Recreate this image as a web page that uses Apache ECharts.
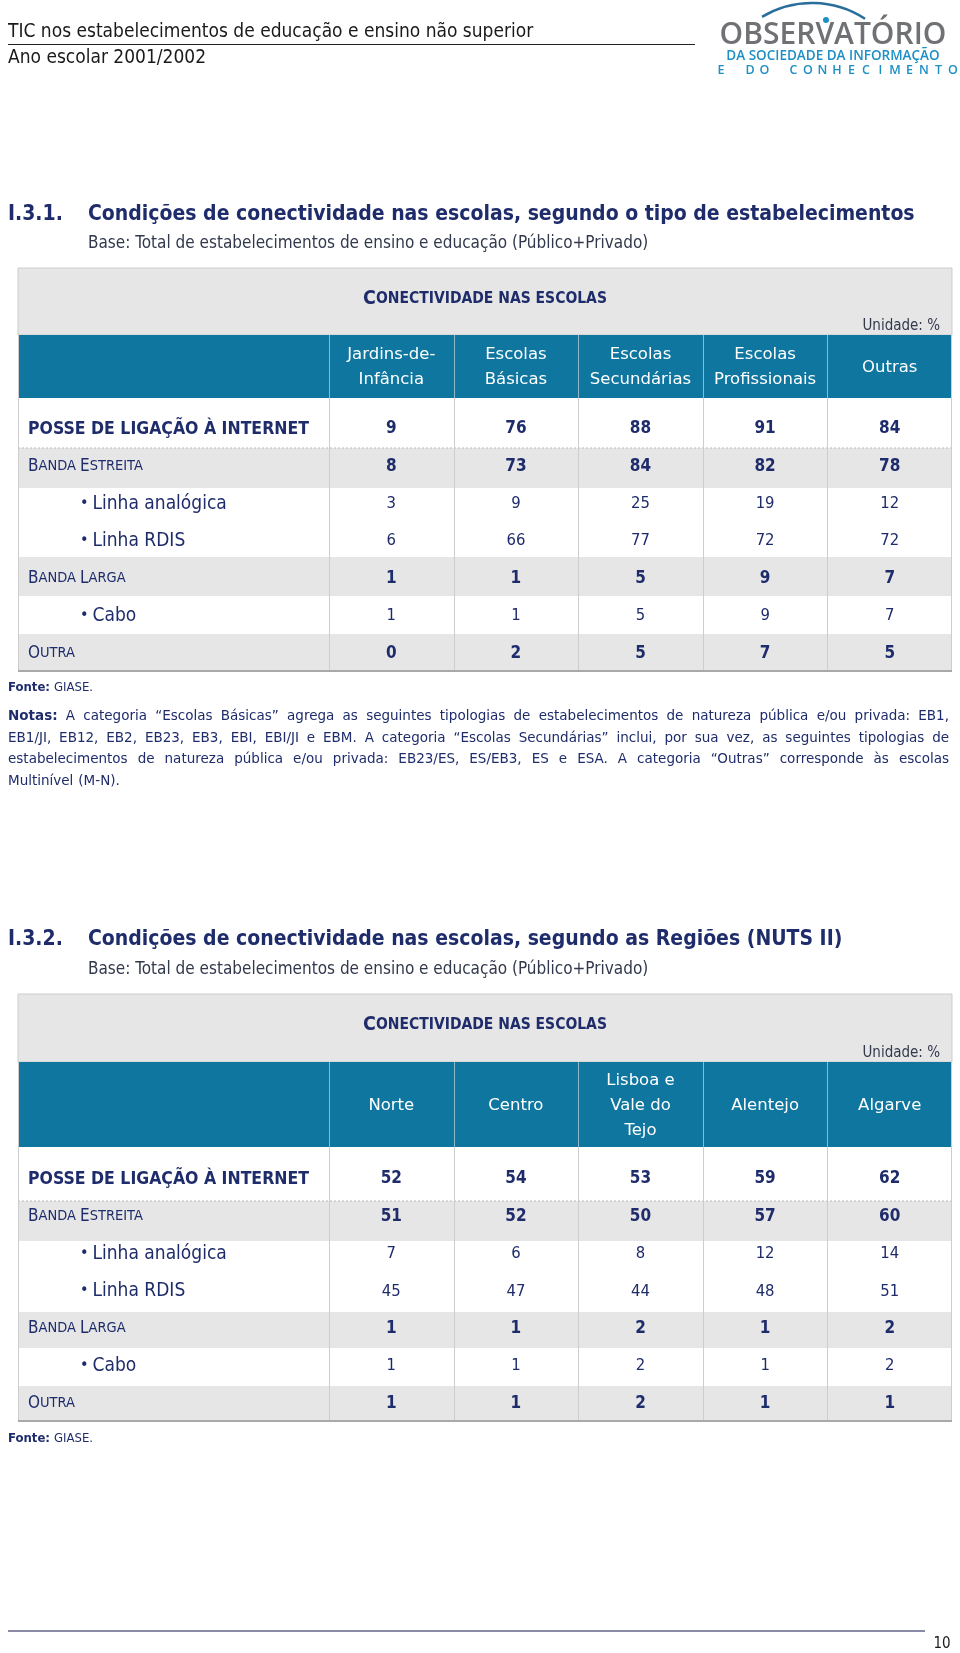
<!DOCTYPE html>
<html><head><meta charset="utf-8">
<script src="https://cdn.jsdelivr.net/npm/echarts@6/dist/echarts.min.js"></script>
<style>html,body{margin:0;padding:0;background:#fff}#main{width:960px;height:1653px}</style>
</head><body><div id="main"></div><script>
// ---------- DATA ----------
const columnsTipo = ['Jardins-de-\nInfância', 'Escolas\nBásicas', 'Escolas\nSecundárias', 'Escolas\nProfissionais', 'Outras'];
const columnsRegiao = ['Norte', 'Centro', 'Lisboa e\nVale do\nTejo', 'Alentejo', 'Algarve'];
const rowLabels = ['POSSE DE LIGAÇÃO À INTERNET', 'Banda Estreita', 'Linha analógica', 'Linha RDIS', 'Banda Larga', 'Cabo', 'Outra'];

const tipoPosse     = [9, 76, 88, 91, 84];
const tipoEstreita  = [8, 73, 84, 82, 78];
const tipoAnalogica = [3, 9, 25, 19, 12];
const tipoRDIS      = [6, 66, 77, 72, 72];
const tipoLarga     = [1, 1, 5, 9, 7];
const tipoCabo      = [1, 1, 5, 9, 7];
const tipoOutra     = [0, 2, 5, 7, 5];

const regPosse     = [52, 54, 53, 59, 62];
const regEstreita  = [51, 52, 50, 57, 60];
const regAnalogica = [7, 6, 8, 12, 14];
const regRDIS      = [45, 47, 44, 48, 51];
const regLarga     = [1, 1, 2, 1, 2];
const regCabo      = [1, 1, 2, 1, 2];
const regOutra     = [1, 1, 2, 1, 1];

// ---------- STYLE ----------
const NAVY = '#1f2c6b';
const BLUE = '#0f76a0';
const GREY = '#e6e6e6';
const BORDER = '#cdcdcd';
const COND = "'DejaVu Sans Condensed','Liberation Sans Narrow','DejaVu Sans',sans-serif";
const SANS = "'DejaVu Sans',Verdana,sans-serif";
const NARROW = "'Liberation Sans Narrow','DejaVu Sans Condensed','DejaVu Sans',sans-serif";
const LOGO = "'Open Sans','Noto Sans',sans-serif";
const rowKinds = ['bold', 'caps', 'bullet', 'bullet', 'caps', 'bullet', 'caps'];

const chart = echarts.init(document.getElementById('main'), null, {renderer: 'canvas', width: 960, height: 1653});

// table layouts
const tables = [
  {top: 268, hdrBottom: 335, blueBottom: 398, bounds: [398, 448, 488, 557, 596, 634, 671], gridTop: 410.4, gridH: 261.4, labelMargin: 42.9},
  {top: 994, hdrBottom: 1062, blueBottom: 1147, bounds: [1147, 1201, 1241, 1312, 1348, 1386, 1421], gridTop: 1160.3, gridH: 262, labelMargin: 54.3}
];
const TL = 18, TR = 952, COLL = 329;
const colW = (TR - COLL) / 5;

const G = [];
function T(text, x, y, o) {
  o = o || {};
  G.push({type: 'text', x: x, y: y, z: 10, silent: true, style: Object.assign({
    text: text, fill: o.fill || NAVY, fontFamily: o.fontFamily || COND, fontSize: o.fontSize || 14,
    fontWeight: o.fontWeight || 'normal', align: o.align || 'left', verticalAlign: o.verticalAlign || 'middle'
  }, o.rich ? {rich: o.rich} : {})});
}
function L(x1, y1, x2, y2, stroke, w, dash) {
  G.push({type: 'line', z: 2, silent: true, shape: {x1, y1, x2, y2}, style: {stroke, lineWidth: w || 1, lineDash: dash || null}});
}
function R(x, y, w, h, fill, stroke) {
  G.push({type: 'rect', z: 1, silent: true, shape: {x, y, width: w, height: h}, style: {fill, stroke: stroke || null, lineWidth: 1}});
}

// ---- page header ----
T('TIC nos estabelecimentos de educação e ensino não superior', 8, 32, {fontFamily: NARROW, fontSize: 19, fill: '#1a1a1a'});
L(8, 44.5, 695, 44.5, '#222', 1.2);
T('Ano escolar 2001/2002', 8, 58, {fontFamily: NARROW, fontSize: 19, fill: '#1a1a1a'});
// logo
G.push({type: 'arc', z: 10, silent: true, shape: {cx: 812, cy: 100, r: 97, startAngle: -2.112, endAngle: -0.992, clockwise: true}, style: {stroke: '#2a6f9c', lineWidth: 2.5, fill: null}});
G.push({type: 'circle', z: 10, silent: true, shape: {cx: 826, cy: 20, r: 3}, style: {fill: '#1c8fc4'}});
T('OBSERVATÓRIO', 833, 35, {fontFamily: LOGO, fontSize: 30, fontWeight: 600, fill: '#6f7174', align: 'center'});
T('DA SOCIEDADE DA INFORMAÇÃO', 833, 56, {fontFamily: LOGO, fontSize: 13.5, fontWeight: 600, fill: '#1c8fc4', align: 'center'});
'E DO CONHECIMENTO'.split('').forEach((ch, i) => {
  if (ch !== ' ') T(ch, 714 + 7 + i * 14.5, 70, {fontFamily: LOGO, fontSize: 12.5, fontWeight: 600, fill: '#1c8fc4', align: 'center'});
});

// ---- section titles ----
function section(num, title, yTitle, yBase) {
  T(num, 8, yTitle, {fontSize: 21, fontWeight: 'bold'});
  T(title, 88, yTitle, {fontSize: 21, fontWeight: 'bold'});
  T('Base: Total de estabelecimentos de ensino e educação (Público+Privado)', 88, yBase, {fontSize: 17, fill: '#33394d'});
}
section('I.3.1.', 'Condições de conectividade nas escolas, segundo o tipo de estabelecimentos', 215, 243.5);
section('I.3.2.', 'Condições de conectividade nas escolas, segundo as Regiões (NUTS II)', 940, 969.5);

// ---- table frames ----
tables.forEach(t => {
  R(TL, t.top, TR - TL, t.hdrBottom - t.top, GREY, BORDER);
  R(TL, t.hdrBottom, TR - TL, t.blueBottom - t.hdrBottom, BLUE, null);
  const fills = ['#ffffff', GREY, '#ffffff', GREY, '#ffffff', GREY];
  for (let i = 0; i < 6; i++) R(TL, t.bounds[i], TR - TL, t.bounds[i + 1] - t.bounds[i], fills[i], null);
  L(TL, t.bounds[1], TR, t.bounds[1], '#b8b8b8', 1, [2, 2]);
  L(TL + 0.5, t.hdrBottom, TL + 0.5, t.bounds[6], BORDER, 1);
  L(TR - 0.5, t.hdrBottom, TR - 0.5, t.bounds[6], BORDER, 1);
  for (let i = 0; i < 5; i++) {
    const x = Math.round(COLL + i * colW) + 0.5;
    L(x, t.hdrBottom, x, t.blueBottom, '#8fb8cc', 1);
    L(x, t.blueBottom, x, t.bounds[6], BORDER, 1);
  }
  L(TL, t.bounds[6], TR, t.bounds[6], '#a9a9a9', 2);
  const cy = t.top + (t.hdrBottom - t.top) * 0.46;
  T('{c|C}{s|ONECTIVIDADE NAS ESCOLAS}', 485, cy, {align: 'center', rich: {
    c: {fontFamily: COND, fontSize: 19.5, fontWeight: 'bold', fill: NAVY},
    s: {fontFamily: COND, fontSize: 15.5, fontWeight: 'bold', fill: NAVY}}});
  T('Unidade: %', 940, t.hdrBottom - 9, {align: 'right', fontSize: 15, fill: '#33394d'});
});

// ---- notes ----
const mctx = document.createElement('canvas').getContext('2d');
function fontStr(f) { return (f.fontWeight || 'normal') + ' ' + f.fontSize + 'px ' + f.fontFamily; }
function justify(words, y, x0, x1, just) {
  const widths = words.map(w => { mctx.font = fontStr(w); return mctx.measureText(w.t).width; });
  const total = widths.reduce((a, b) => a + b, 0);
  const gap = just ? (x1 - x0 - total) / (words.length - 1) : 5;
  let x = x0;
  words.forEach((w, i) => { T(w.t, x, y, {fontFamily: w.fontFamily, fontSize: w.fontSize, fontWeight: w.fontWeight, fill: NAVY}); x += widths[i] + gap; });
}
function wordsOf(str, boldFirst) {
  return str.split(' ').map((t, i) => ({t, fontFamily: SANS, fontSize: 13.5, fontWeight: (boldFirst && i === 0) ? 'bold' : 'normal'}));
}
const fonteRich = {b: {fontFamily: COND, fontSize: 13, fontWeight: 'bold', fill: NAVY}, r: {fontFamily: COND, fontSize: 13, fill: NAVY}};
T('{b|Fonte:} {r|GIASE.}', 8, 688, {rich: fonteRich});
justify(wordsOf('Notas: A categoria “Escolas Básicas” agrega as seguintes tipologias de estabelecimentos de natureza pública e/ou privada: EB1,', true), 716.5, 8, 949, true);
justify(wordsOf('EB1/JI, EB12, EB2, EB23, EB3, EBI, EBI/JI e EBM. A categoria “Escolas Secundárias” inclui, por sua vez, as seguintes tipologias de'), 738, 8, 949, true);
justify(wordsOf('estabelecimentos de natureza pública e/ou privada: EB23/ES, ES/EB3, ES e ESA. A categoria “Outras” corresponde às escolas'), 759.5, 8, 949, true);
justify(wordsOf('Multinível (M-N).'), 781, 8, 949, false);
T('{b|Fonte:} {r|GIASE.}', 8, 1438.5, {rich: fonteRich});

// ---- footer ----
L(8, 1631, 925, 1631, '#8a8aa6', 2);
T('10', 942, 1644, {align: 'center', fontSize: 15, fill: '#1a1a1a'});

// ---------- axes & series ----------
function rowLabelFormatter(value, index) {
  const k = rowKinds[index];
  if (k === 'bold') return '{b|' + value + '}';
  if (k === 'caps') return value.split(' ').map(w => '{cap|' + w[0].toUpperCase() + '}{sc|' + w.slice(1).toUpperCase() + '}').join('{sc| }');
  return '{bul|•}{it|' + value + '}';
}
const rowRich = {
  b: {fontFamily: COND, fontSize: 17.5, fontWeight: 'bold', color: NAVY},
  cap: {fontFamily: COND, fontSize: 17, color: NAVY},
  sc: {fontFamily: COND, fontSize: 14.5, color: NAVY},
  bul: {fontFamily: COND, fontSize: 16, color: NAVY, padding: [0, 4, 0, 52]},
  it: {fontFamily: COND, fontSize: 19, color: NAVY}
};

function cells(rows) {
  const out = [];
  rows.forEach((arr, r) => arr.forEach((v, c) => {
    const bold = rowKinds[r] !== 'bullet';
    out.push({value: [c, r, v], label: {fontWeight: bold ? 'bold' : 'normal', fontSize: bold ? 17 : 16.5}});
  }));
  return out;
}

const xAxes = [], yAxes = [], grids = [], series = [];
[[columnsTipo, [tipoPosse, tipoEstreita, tipoAnalogica, tipoRDIS, tipoLarga, tipoCabo, tipoOutra]],
 [columnsRegiao, [regPosse, regEstreita, regAnalogica, regRDIS, regLarga, regCabo, regOutra]]].forEach((tbl, i) => {
  const t = tables[i];
  grids.push({left: COLL, top: t.gridTop, width: TR - COLL, height: t.gridH, containLabel: false});
  xAxes.push({type: 'category', gridIndex: i, data: tbl[0], position: 'top', z: 5,
    axisLine: {show: false}, axisTick: {show: false}, splitLine: {show: false},
    axisLabel: {interval: 0, color: '#ffffff', fontFamily: SANS, fontSize: 16.5, lineHeight: 25, verticalAlign: 'middle', margin: t.labelMargin}});
  yAxes.push({type: 'category', gridIndex: i, data: rowLabels, inverse: true, z: 5,
    axisLine: {show: false}, axisTick: {show: false}, splitLine: {show: false},
    axisLabel: {interval: 0, align: 'left', margin: COLL - 28, formatter: rowLabelFormatter, rich: rowRich}});
  series.push({type: 'scatter', xAxisIndex: i, yAxisIndex: i, z: 6, silent: true, symbolSize: 0,
    itemStyle: {opacity: 1},
    data: cells(tbl[1]),
    label: {show: true, position: 'inside', color: NAVY, opacity: 1, fontFamily: COND, formatter: p => String(p.value[2])}});
});

chart.setOption({
  animation: false,
  backgroundColor: '#ffffff',
  grid: grids, xAxis: xAxes, yAxis: yAxes, series: series,
  graphic: {elements: G}
});
</script></body></html>
